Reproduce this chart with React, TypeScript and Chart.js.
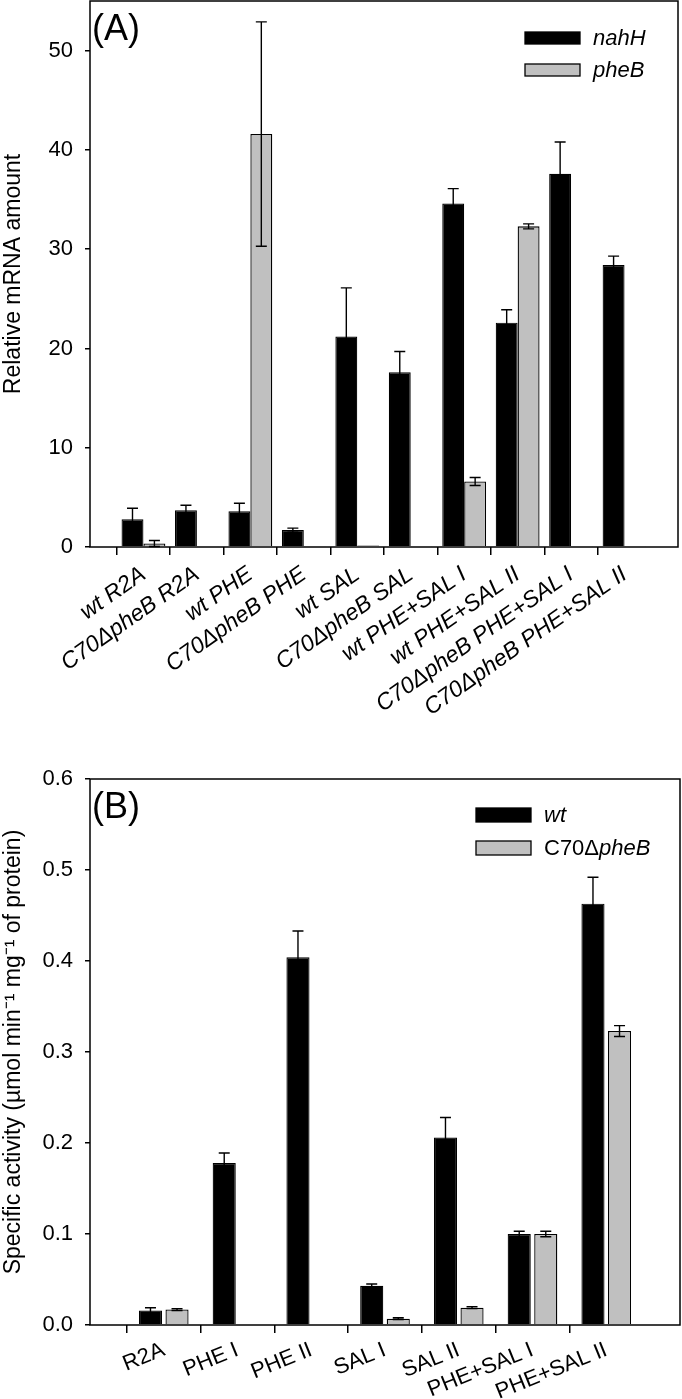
import React, { useEffect, useRef } from 'react';
import { Chart, registerables } from 'chart.js';

Chart.register(...registerables);

const FAMILY = '"Liberation Sans", Arial, Helvetica, sans-serif';

// ---------- Panel A data ----------
const categoriesA = [
  'wt R2A',
  'C70ΔpheB R2A',
  'wt PHE',
  'C70ΔpheB PHE',
  'wt SAL',
  'C70ΔpheB SAL',
  'wt PHE+SAL I',
  'wt PHE+SAL II',
  'C70ΔpheB PHE+SAL I',
  'C70ΔpheB PHE+SAL II',
];
const nahH = [2.8, 3.7, 3.6, 1.7, 21.2, 17.6, 34.6, 22.6, 37.6, 28.4];
const nahHErr = [1.1, 0.5, 0.8, 0.2, 4.9, 2.1, 1.5, 1.3, 3.2, 0.9];
const pheB = [0.35, 0.05, 41.6, 0.05, 0.15, 0.05, 6.6, 32.3, 0.05, 0.05];
const pheBErr = [0.3, 0, 11.3, 0, 0, 0, 0.4, 0.25, 0, 0];
const yTicksA = [0, 10, 20, 30, 40, 50];
const yMaxA = 55;

// ---------- Panel B data ----------
const categoriesB = ['R2A', 'PHE I', 'PHE II', 'SAL I', 'SAL II', 'PHE+SAL I', 'PHE+SAL II'];
const wtVals = [0.016, 0.178, 0.404, 0.043, 0.206, 0.1, 0.463];
const wtErr = [0.003, 0.011, 0.029, 0.002, 0.022, 0.003, 0.029];
const c70Vals = [0.017, 0, 0, 0.007, 0.019, 0.1, 0.323];
const c70Err = [0.001, 0, 0, 0.001, 0.001, 0.003, 0.006];
const yTicksB = [0, 0.1, 0.2, 0.3, 0.4, 0.5, 0.6];
const yMaxB = 0.6;

const BLACK = '#000000';
const GREY = '#c0c0c0';

const pad = (arr: (number | null)[]) => [null, ...arr, null];

const errorBarPlugin = {
  id: 'errorBars',
  afterDatasetsDraw(chart: any) {
    const ctx = chart.ctx;
    const y = chart.scales.y;
    chart.data.datasets.forEach((ds: any, i: number) => {
      const meta = chart.getDatasetMeta(i);
      const errs = ds.errors;
      if (!errs) return;
      meta.data.forEach((el: any, j: number) => {
        const v = ds.data[j];
        const e = errs[j];
        if (v == null || !e) return;
        const x = el.x;
        const yt = y.getPixelForValue(v + e);
        const yb = y.getPixelForValue(Math.max(0, v - e));
        ctx.save();
        ctx.strokeStyle = '#000';
        ctx.lineWidth = 1.4;
        ctx.beginPath();
        ctx.moveTo(x, yt);
        ctx.lineTo(x, yb);
        ctx.moveTo(x - 5.5, yt);
        ctx.lineTo(x + 5.5, yt);
        ctx.moveTo(x - 5.5, yb);
        ctx.lineTo(x + 5.5, yb);
        ctx.stroke();
        ctx.restore();
      });
    });
  },
};

const decorPlugin = {
  id: 'decor',
  afterDraw(chart: any, _args: any, opts: any) {
    const { ctx, chartArea: ca } = chart;
    ctx.save();
    // frame
    ctx.strokeStyle = '#000';
    ctx.lineWidth = 1.5;
    ctx.strokeRect(ca.left, ca.top, ca.right - ca.left, ca.bottom - ca.top);
    // panel label
    ctx.fillStyle = '#000';
    ctx.font = `36px ${FAMILY}`;
    ctx.textAlign = 'left';
    ctx.textBaseline = 'alphabetic';
    ctx.fillText(opts.panel, ca.left + 2, ca.top + 39);
    // legend
    const items = opts.items || [];
    items.forEach((it: any, k: number) => {
      const bx = ca.right - opts.boxRight;
      const by = ca.top + opts.rowTop + k * opts.rowGap;
      ctx.fillStyle = it.color;
      ctx.fillRect(bx, by, opts.boxW, opts.boxH);
      ctx.strokeStyle = '#000';
      ctx.lineWidth = 1.3;
      ctx.strokeRect(bx, by, opts.boxW, opts.boxH);
      let tx = ca.right - opts.textRight;
      ctx.fillStyle = '#000';
      ctx.textBaseline = 'middle';
      it.parts.forEach((p: any) => {
        ctx.font = `${p.italic ? 'italic ' : ''}22px ${FAMILY}`;
        ctx.fillText(p.t, tx, by + opts.boxH / 2 + 1);
        tx += ctx.measureText(p.t).width;
      });
    });
    ctx.restore();
  },
};

function makeConfig(p: any) {
  const labels = ['', ...p.categories, ''];
  const last = labels.length - 1;
  return {
    type: 'bar',
    data: {
      labels,
      datasets: [
        {
          label: p.names[0],
          data: pad(p.s1),
          errors: pad(p.e1),
          backgroundColor: BLACK,
          borderColor: BLACK,
          borderWidth: 1.2,
          categoryPercentage: p.catPct,
          barPercentage: p.barPct,
        },
        {
          label: p.names[1],
          data: pad(p.s2),
          errors: pad(p.e2),
          backgroundColor: GREY,
          borderColor: BLACK,
          borderWidth: (c: any) => (c.raw ? 1.3 : 0),
          categoryPercentage: p.catPct,
          barPercentage: p.barPct,
        },
      ],
    },
    options: {
      responsive: false,
      animation: false,
      events: [],
      layout: { padding: p.padding },
      plugins: {
        legend: { display: false },
        tooltip: { enabled: false },
        decor: p.decor,
      },
      scales: {
        x: {
          type: 'category',
          offset: false,
          grid: {
            drawOnChartArea: false,
            drawTicks: true,
            tickLength: 8,
            lineWidth: 1.5,
            color: (c: any) => (c.index === 0 || c.index === last ? 'rgba(0,0,0,0)' : '#000'),
          },
          border: { display: false },
          ticks: {
            autoSkip: false,
            maxRotation: p.rotation,
            minRotation: p.rotation,
            padding: p.xPad,
            color: '#000',
            font: { family: FAMILY, size: p.xFont, style: p.xItalic ? 'italic' : 'normal' },
          },
          afterFit: (s: any) => {
            s.height = p.xHeight;
            s.paddingLeft = 0;
            s.paddingRight = 0;
          },
        },
        y: {
          min: 0,
          max: p.yMax,
          afterBuildTicks: (s: any) => {
            s.ticks = p.yTicks.map((v: number) => ({ value: v }));
          },
          grid: { drawOnChartArea: false, tickLength: 5, lineWidth: 1.5, color: '#000' },
          border: { display: false },
          ticks: {
            padding: 12,
            color: '#000',
            font: { family: FAMILY, size: 22 },
            callback: p.tickFmt,
          },
          title: {
            display: true,
            text: p.yTitle,
            color: '#000',
            padding: 0,
            font: { family: FAMILY, size: 23 },
          },
          afterFit: (s: any) => {
            s.width = 90;
            s.paddingTop = 0;
            s.paddingBottom = 0;
          },
        },
      },
    },
    plugins: [errorBarPlugin, decorPlugin],
  };
}

const configA = () =>
  makeConfig({
    categories: categoriesA,
    names: ['nahH', 'pheB'],
    s1: nahH,
    e1: nahHErr,
    s2: pheB,
    e2: pheBErr,
    catPct: 0.82,
    barPct: 1.0,
    rotation: 35,
    xItalic: true,
    xFont: 23,
    xPad: 6,
    xHeight: 213,
    yMax: yMaxA,
    yTicks: yTicksA,
    tickFmt: (v: any) => String(v),
    yTitle: 'Relative mRNA amount',
    padding: { left: 0, right: 4, top: 1, bottom: 0 },
    decor: {
      panel: '(A)',
      boxRight: 153,
      textRight: 85,
      boxW: 55,
      boxH: 12,
      rowTop: 31,
      rowGap: 32,
      items: [
        { color: BLACK, parts: [{ t: 'nahH', italic: true }] },
        { color: GREY, parts: [{ t: 'pheB', italic: true }] },
      ],
    },
  });

const configB = () =>
  makeConfig({
    categories: categoriesB,
    names: ['wt', 'C70ΔpheB'],
    s1: wtVals,
    e1: wtErr,
    s2: c70Vals,
    e2: c70Err,
    catPct: 0.72,
    barPct: 0.87,
    rotation: 22,
    xItalic: false,
    xFont: 22,
    xPad: 4,
    xHeight: 74,
    yMax: yMaxB,
    yTicks: yTicksB,
    tickFmt: (v: any) => Number(v).toFixed(1),
    yTitle: 'Specific activity (µmol min⁻¹ mg⁻¹ of protein)',
    padding: { left: 0, right: 2, top: 19, bottom: 0 },
    decor: {
      panel: '(B)',
      boxRight: 204,
      textRight: 136,
      boxW: 55,
      boxH: 14,
      rowTop: 29,
      rowGap: 33,
      items: [
        { color: BLACK, parts: [{ t: 'wt', italic: true }] },
        { color: GREY, parts: [{ t: 'C70Δ', italic: false }, { t: 'pheB', italic: true }] },
      ],
    },
  });

function Panel({ make, top, height }: { make: () => any; top: number; height: number }) {
  const ref = useRef<HTMLCanvasElement>(null);
  useEffect(() => {
    const chart = new Chart(ref.current as HTMLCanvasElement, make() as any);
    return () => chart.destroy();
  }, [make]);
  return (
    <canvas
      ref={ref}
      width={682}
      height={height}
      style={{ position: 'absolute', left: 0, top, width: 682, height }}
    />
  );
}

export default function App() {
  return (
    <div style={{ position: 'absolute', left: 0, top: 0, width: 682, height: 1399, background: '#fff' }}>
      <Panel make={configA} top={0} height={760} />
      <Panel make={configB} top={760} height={639} />
    </div>
  );
}
